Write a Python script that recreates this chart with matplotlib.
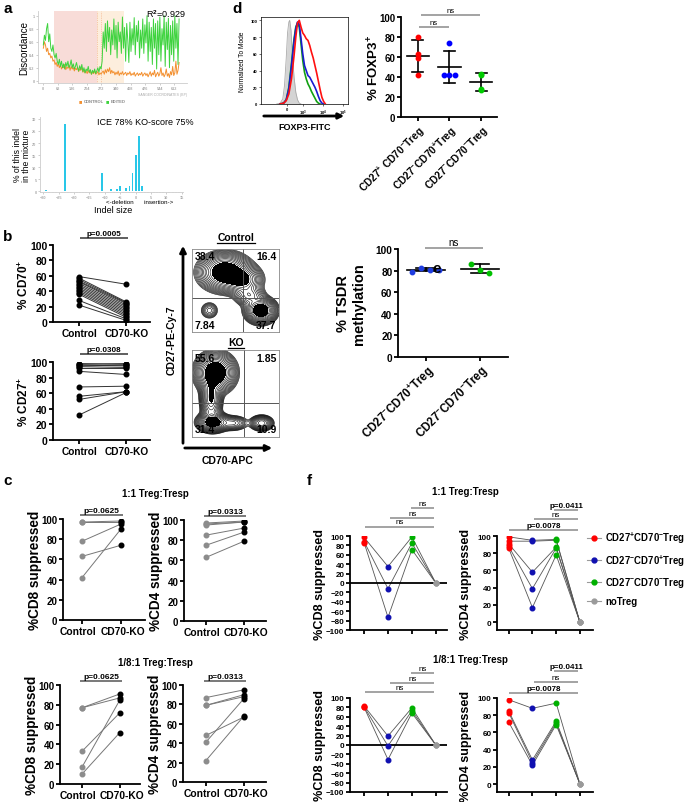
import numpy as np
import matplotlib
matplotlib.use("Agg")
import matplotlib.pyplot as plt
from matplotlib.lines import Line2D
from matplotlib.patches import FancyArrowPatch
from matplotlib.transforms import ScaledTranslation

plt.rcParams['font.family'] = ['Liberation Sans', 'DejaVu Sans']
plt.rcParams['font.weight'] = 'bold'
plt.rcParams['axes.labelweight'] = 'bold'
plt.rcParams['mathtext.fontset'] = 'custom'
plt.rcParams['mathtext.rm'] = 'Liberation Sans:bold'
plt.rcParams['mathtext.it'] = 'Liberation Sans:bold'
plt.rcParams['mathtext.bf'] = 'Liberation Sans:bold'
plt.rcParams['mathtext.default'] = 'rm'

# ---------------- data ----------------
# a: discordance trace, one value every 5 bp
bp = np.arange(0, 640, 5)
edited = [0.55, 0.7, 0.62, 0.8, 0.88, 0.6, 0.72, 0.5, 0.45, 0.55, 0.4, 0.35, 0.42, 0.3, 0.25, 0.33,
          0.22, 0.3, 0.2, 0.26, 0.18, 0.28, 0.22, 0.3, 0.2, 0.24, 0.32, 0.2, 0.26, 0.18, 0.22, 0.28,
          0.2, 0.15, 0.23, 0.17, 0.25, 0.14, 0.2, 0.12, 0.18, 0.15, 0.22, 0.13, 0.17, 0.1, 0.16, 0.12,
          0.18, 0.11, 0.15, 0.2, 0.13, 0.22, 0.18, 0.3, 0.75, 0.5, 0.88, 0.45, 0.92, 0.6, 0.82, 0.4,
          0.78, 0.55, 0.95, 0.48, 0.85, 0.35, 0.9, 0.6, 0.75, 0.42, 0.98, 0.5, 0.82, 0.3, 0.88, 0.62,
          0.28, 0.9, 0.45, 0.8, 0.55, 0.97, 0.4, 0.85, 0.6, 0.92, 0.35, 0.78, 0.5, 0.95, 0.42, 0.86,
          0.58, 1.0, 0.3, 0.9, 0.45, 0.82, 0.25, 0.95, 0.5, 0.88, 0.18, 0.92, 0.4, 0.98, 0.3, 0.8,
          0.55, 1.0, 0.22, 0.9, 0.48, 0.96, 0.2, 0.85, 0.4, 0.92, 0.3, 1.0, 0.5, 0.88, 0.25, 0.95]
control = [0.5, 0.6, 0.55, 0.45, 0.5, 0.4, 0.42, 0.35, 0.38, 0.3, 0.32, 0.25, 0.28, 0.22, 0.26, 0.2,
           0.24, 0.18, 0.22, 0.2, 0.25, 0.17, 0.21, 0.19, 0.24, 0.16, 0.22, 0.18, 0.2, 0.15, 0.19, 0.17,
           0.21, 0.14, 0.18, 0.16, 0.2, 0.13, 0.17, 0.12, 0.15, 0.11, 0.16, 0.12, 0.14, 0.1, 0.13, 0.11,
           0.15, 0.1, 0.12, 0.14, 0.09, 0.12, 0.1, 0.13, 0.15, 0.1, 0.17, 0.12, 0.18, 0.14, 0.2, 0.11,
           0.16, 0.12, 0.14, 0.09, 0.13, 0.1, 0.15, 0.08, 0.12, 0.1, 0.14, 0.09, 0.11, 0.13, 0.08, 0.12,
           0.1, 0.14, 0.08, 0.11, 0.09, 0.13, 0.07, 0.1, 0.12, 0.08, 0.11, 0.09, 0.13, 0.07, 0.1, 0.12,
           0.08, 0.11, 0.06, 0.1, 0.14, 0.07, 0.12, 0.09, 0.16, 0.06, 0.1, 0.13, 0.07, 0.11, 0.2, 0.08,
           0.12, 0.06, 0.1, 0.18, 0.07, 0.11, 0.05, 0.14, 0.09, 0.22, 0.08, 0.12, 0.3, 0.1, 0.16, 0.28]

# a: ICE indel spectrum
indel_size = [-29, -24, -23, -21, -11, -8, -6, -5, -3, -2, -1, 0, 1, 2]
indel_pct = [0.5, 0.3, 28, 0.3, 7.6, 1.0, 0.8, 2.0, 1.5, 2.0, 7.6, 15.2, 23.0, 2.3]

# b: paired CD70 / CD27 frequencies
cd70_ctrl = [59, 57, 55, 53, 52, 50, 48, 46, 44, 42, 40, 38, 36, 28, 22]
cd70_ko = [49, 26, 25, 24, 22, 20, 18, 16, 14, 12, 10, 8, 6, 4, 2]
cd27_ctrl = [98, 97, 96, 95, 94, 92, 88, 68, 56, 52, 32]
cd27_ko = [97, 98, 95, 96, 93, 92, 84, 69, 62, 62, 61]

# b: flow populations (centre x, centre y, sd x, sd y, weight)
ctrl_pop = dict(cx=[0.38, 0.58, 0.79, 0.66, 0.2], cy=[0.72, 0.63, 0.26, 0.44, 0.26],
                sx=[0.13, 0.1, 0.08, 0.08, 0.05], sy=[0.1, 0.08, 0.07, 0.06, 0.05],
                w=[1.0, 0.6, 0.9, 0.3, 0.12])
ko_pop = dict(cx=[0.27, 0.22, 0.24, 0.8, 0.47], cy=[0.74, 0.45, 0.17, 0.16, 0.16],
              sx=[0.1, 0.055, 0.08, 0.06, 0.08], sy=[0.1, 0.13, 0.05, 0.04, 0.04],
              w=[1.0, 0.55, 0.8, 0.4, 0.22])
ctrl_quads = ['38.4', '16.4', '7.84', '37.7']
ko_quads = ['55.6', '1.85', '31.4', '10.9']

# c: suppression, control vs CD70-KO
c_cd8_11 = ([97, 97, 78, 63, 42], [98, 97, 95, 74, 90])
c_cd4_11 = ([97, 96, 95, 85, 75, 63], [99, 98, 98, 92, 88, 79])
c_cd8_81 = ([77, 77, 33, 17, 10], [91, 87, 72, 85, 52])
c_cd4_81 = ([87, 79, 79, 48, 41, 22], [95, 90, 88, 67, 86, 68])

# d: FOXP3 histograms (display units along axis)
grey_u = [18, 22, 25, 27, 29, 30.5, 32, 33, 34.5, 36, 38, 40, 42, 44, 46]
grey_h = [0, 1, 6, 22, 55, 85, 98, 100, 88, 60, 32, 14, 5, 1, 0]
red_u = [22, 26, 29, 32, 35, 38, 40, 42, 44, 46, 48, 50, 52, 54, 56, 58, 60, 62, 64, 66, 68, 70, 72, 74]
red_h = [0, 1, 4, 12, 30, 58, 80, 97, 100, 92, 85, 82, 78, 76, 70, 62, 55, 46, 37, 27, 17, 8, 3, 0]
blue_u = [22, 26, 29, 32, 35, 38, 40, 42, 44, 46, 48, 50, 52, 54, 56, 58, 60, 62, 64, 66, 68, 70, 72]
blue_h = [0, 1, 5, 18, 45, 75, 90, 98, 95, 78, 60, 46, 40, 34, 32, 28, 24, 20, 15, 9, 4, 1, 0]
green_u = [22, 26, 29, 32, 35, 38, 40, 42, 44, 46, 48, 50, 52, 54, 56, 58, 60, 62, 64, 66, 68]
green_h = [0, 1, 5, 20, 48, 78, 92, 97, 92, 72, 52, 38, 30, 24, 20, 15, 11, 7, 3, 1, 0]

# d: % FOXP3+
treg_labels = ['CD27$^{+}$ CD70$^{-}$Treg', 'CD27$^{-}$CD70$^{+}$Treg', 'CD27$^{-}$CD70$^{-}$Treg']
foxp3 = [[80, 63, 59, 42], [74, 42, 42, 42], [43, 42, 28, 27]]
# e: TSDR methylation
tsdr_labels = ['CD27$^{-}$CD70$^{+}$Treg', 'CD27$^{-}$CD70$^{-}$Treg']
tsdr = [[79, 82, 81, 81], [86, 81, 78]]

# f: suppression per donor (red, blue, green, noTreg)
f_cd8_11 = [[97, 35, 98, 0], [88, -12, 85, 0], [86, -73, 71, 0]]
f_cd4_11 = [[99, 95, 96, 0], [94, 94, 95, 0], [91, 58, 87, 0], [88, 39, 86, 0], [86, 17, 78, 0]]
f_cd8_81 = [[83, 19, 79, 0], [81, -2, 73, 0], [80, -31, 68, 0]]
f_cd4_81 = [[98, 88, 94, 0], [85, 28, 73, 0], [83, 25, 71, 0], [72, 22, 69, 0]]
f_labels = ['CD27$^{+}$CD70$^{-}$Treg', 'CD27$^{-}$CD70$^{+}$Treg', 'CD27$^{-}$CD70$^{-}$Treg', 'noTreg']
f_colors = ['#ff0000', '#1010b0', '#00b000', '#9a9a9a']

# ---------------- figure ----------------
W, H = 685, 803
fig = plt.figure(figsize=(W / 100, H / 100), dpi=100)


def axes_at(l, t, r, b):
    ax = fig.add_axes([l / W, 1 - b / H, (r - l) / W, (b - t) / H])
    ax.px = (l, t, r, b)
    return ax


def ftext(x, y, s, **kw):
    return fig.text(x / W, 1 - y / H, s, **kw)


def ylab(ax, s, xright, fs, **kw):
    l, t, r, b = ax.px
    ax.set_ylabel(s, fontsize=fs, **kw)
    ax.yaxis.set_label_coords((xright - l) / (r - l), 0.5)


def prism(ax, ylim, yticks, fs):
    for s in ('top', 'right'):
        ax.spines[s].set_visible(False)
    for s in ('left', 'bottom'):
        ax.spines[s].set_linewidth(1.3)
    ax.set_ylim(*ylim)
    ax.set_yticks(yticks)
    ax.tick_params(width=1.3, length=3, labelsize=fs, pad=1)
    ax.patch.set_alpha(0)


def sig(ax, x0, x1, y, s, fs=5.5, color='#8a8a8a', weight='normal'):
    ax.plot([x0, x1], [y, y], color=color, lw=1.1, clip_on=False, solid_capstyle='butt')
    ax.annotate(s, xy=((x0 + x1) / 2, y), xytext=(0, 0.8), textcoords='offset points',
                ha='center', va='bottom', fontsize=fs, fontweight=weight, annotation_clip=False)


def arrow(x0, y0, x1, y1, ms=9):
    fig.add_artist(FancyArrowPatch((x0 / W, 1 - y0 / H), (x1 / W, 1 - y1 / H),
                                   transform=fig.transFigure, arrowstyle='-|>',
                                   mutation_scale=ms, lw=2, color='k'))


# panel letters
for s, x, y in [('a', 3, 2), ('d', 232, 2), ('b', 3, 230), ('e', 432, 262), ('c', 3, 474), ('f', 307, 474)]:
    ftext(x, y, s, fontsize=11, va='top')

# ---- a: discordance ----
ax = axes_at(38, 12, 187, 84)
ax.axvspan(50, 250, color='#f8dcd8', lw=0)
ax.axvspan(250, 375, color='#fdeedd', lw=0)
ax.axvline(250, color='#f0a070', lw=0.5, ls=':')
ax.axvline(272, color='#f0a070', lw=0.5, ls=':')
ax.plot(bp, control, color='#f39030', lw=0.7)
ax.plot(bp, edited, color='#3ed33e', lw=0.7)
ax.set_xlim(-25, 672)
ax.set_ylim(-0.035, 1.072)
ax.set_xticks(np.arange(0, 613, 68))
ax.set_yticks(np.arange(0, 1.01, 0.2))
ax.set_yticklabels(['0', '0.2', '0.4', '0.6', '0.8', '1'])
ax.tick_params(labelsize=2.8, colors='#aaaaaa', length=1.5, width=0.4, pad=1)
for s in ('top', 'right'):
    ax.spines[s].set_visible(False)
for s in ('left', 'bottom'):
    ax.spines[s].set_color('#cccccc')
    ax.spines[s].set_linewidth(0.6)
ylab(ax, 'Discordance', 29, 7, fontweight='normal')
ftext(186, 14, 'R$^2$=0.929', fontsize=6.5, fontweight='normal', ha='right', va='center')
ftext(187, 96, 'SANGER COORDINATES (BP)', fontsize=2.5, color='#aaaaaa', ha='right', fontweight='normal')
ftext(79, 102, '■', fontsize=4, color='#f39030', va='center')
ftext(84, 102, 'CONTROL', fontsize=3, color='#888888', va='center')
ftext(106, 102, '■', fontsize=4, color='#3ed33e', va='center')
ftext(111, 102, 'EDITED', fontsize=3, color='#888888', va='center')

# ---- a: ICE ----
ax = axes_at(40, 118, 183, 193)
ax.bar(indel_size, indel_pct, width=0.6, color='#29c7e8')
ax.set_xlim(-31.07, 15.4)
ax.set_ylim(-0.3, 30.8)
ax.set_xticks(np.arange(-30, 16, 5))
ax.set_xticks(np.arange(-30, 16, 1), minor=True)
ax.set_yticks(np.arange(0, 31, 5))
ax.tick_params(labelsize=2.8, colors='#aaaaaa', length=1.5, width=0.4, pad=1)
ax.tick_params(which='minor', length=1, width=0.3, colors='#aaaaaa')
for s in ('top', 'right'):
    ax.spines[s].set_visible(False)
for s in ('left', 'bottom'):
    ax.spines[s].set_color('#cccccc')
    ax.spines[s].set_linewidth(0.6)
ylab(ax, '% of this indel\nin the mixture', 31, 6.2, fontweight='normal', linespacing=1.0)
ftext(145, 123, 'ICE 78% KO-score 75%', fontsize=6.5, fontweight='normal', ha='center', va='center')
ftext(140, 203, '<-deletion      insertion->', fontsize=4.5, fontweight='normal', ha='center', va='center')
ftext(113, 211, 'Indel size', fontsize=6.5, fontweight='normal', ha='center', va='center')


# ---- b: paired plots ----
def paired(ax, ctrl, ko, cc, kc, lc):
    for a, b in zip(ctrl, ko):
        ax.plot([0, 1], [a, b], color=lc, lw=0.7, zorder=1)
    ax.plot(np.zeros(len(ctrl)), ctrl, 'o', color=cc, ms=3.3, zorder=2)
    ax.plot(np.ones(len(ko)), ko, 'o', color=kc, ms=3.3, zorder=2)


ax = axes_at(53, 246, 150, 323)
paired(ax, cd70_ctrl, cd70_ko, 'k', 'k', '#333333')
prism(ax, (0, 100), range(0, 101, 20), 7.5)
ax.set_xlim(-0.55, 1.5)
ax.set_xticks([0, 1])
ax.set_xticklabels(['Control', 'CD70-KO'], fontsize=7.3)
sig(ax, 0.02, 1.04, 109, 'p=0.0005', fs=5.8, color='#333333', weight='bold')
ylab(ax, '% CD70$^{+}$', 31, 8.5)

ax = axes_at(53, 363, 150, 441)
paired(ax, cd27_ctrl, cd27_ko, 'k', 'k', '#333333')
prism(ax, (0, 100), range(0, 101, 20), 7.5)
ax.set_xlim(-0.55, 1.5)
ax.set_xticks([0, 1])
ax.set_xticklabels(['Control', 'CD70-KO'], fontsize=7.3)
sig(ax, 0.02, 1.04, 110, 'p=0.0308', fs=5.8, color='#333333', weight='bold')
ylab(ax, '% CD27$^{+}$', 31, 8.5)


# ---- b: flow contour plots ----
def flow(ax, pop, qx, qy, quads):
    g = np.linspace(0, 1, 220)
    X, Y = np.meshgrid(g, g)
    Z = np.zeros_like(X)
    for cx, cy, sx, sy, w in zip(pop['cx'], pop['cy'], pop['sx'], pop['sy'], pop['w']):
        Z += w * np.exp(-((X - cx) ** 2 / (2 * sx ** 2) + (Y - cy) ** 2 / (2 * sy ** 2)))
    zmax = Z.max()
    ax.contourf(X, Y, Z, levels=[zmax * 0.5, zmax * 1.01], colors='k')
    ax.contour(X, Y, Z, levels=np.geomspace(zmax * 0.02, zmax * 0.5, 15), colors='k', linewidths=0.4)
    ax.axvline(qx, color='#555555', lw=0.7)
    ax.axhline(qy, color='#555555', lw=0.7)
    ax.set_xlim(0, 1)
    ax.set_ylim(0, 1)
    ax.set_xticks([])
    ax.set_yticks([])
    for s in ax.spines.values():
        s.set_linewidth(0.6)
        s.set_color('#888888')
    kw = dict(fontsize=7.5, transform=ax.transAxes)
    ax.text(0.03, 0.97, quads[0], ha='left', va='top', **kw)
    ax.text(0.97, 0.97, quads[1], ha='right', va='top', **kw)
    ax.text(0.03, 0.03, quads[2], ha='left', va='bottom', **kw)
    ax.text(0.97, 0.03, quads[3], ha='right', va='bottom', **kw)


ax = axes_at(192, 250, 279, 333)
flow(ax, ctrl_pop, 0.59, 0.41, ctrl_quads)
ax = axes_at(192, 351, 279, 438)
flow(ax, ko_pop, 0.6, 0.39, ko_quads)
ftext(236, 238, 'Control', fontsize=7.5, ha='center', va='center')
fig.add_artist(Line2D([217 / W, 255 / W], [1 - 244 / H, 1 - 244 / H], color='k', lw=0.9))
ftext(236, 343, 'KO', fontsize=7.5, ha='center', va='center')
fig.add_artist(Line2D([228 / W, 244 / W], [1 - 349 / H, 1 - 349 / H], color='k', lw=0.9))
arrow(183, 447, 183, 244)
arrow(182, 449, 275, 449)
ftext(172, 340, 'CD27-PE-Cy-7', fontsize=7.5, rotation=90, ha='center', va='center')
ftext(228, 461, 'CD70-APC', fontsize=7.5, ha='center', va='center')


# ---- c ----
def c_panel(ax, pair, p, ylabel, xlim):
    paired(ax, pair[0], pair[1], '#8c8c8c', 'k', '#777777')
    prism(ax, (0, 100), range(0, 101, 20), 7)
    ax.set_xlim(*xlim)
    ax.set_xticks([0, 1])
    labs = ax.set_xticklabels(['Control', 'CD70-KO'], fontsize=7.4)
    for lab, dx in zip(labs, (-4, 2)):
        lab.set_transform(lab.get_transform() + ScaledTranslation(dx / 100, 0, fig.dpi_scale_trans))
    sig(ax, -0.05, 1.05, 104, p, fs=6, color='#555555', weight='bold')
    ylab(ax, ylabel, ax.px[0] - 21, 9.8)


c_panel(axes_at(63, 520, 145, 621), c_cd8_11, 'p=0.0625', '%CD8 suppressed', (-0.49, 1.62))
c_panel(axes_at(184, 521, 266, 622), c_cd4_11, 'p=0.0313', '%CD4 suppressed', (-0.58, 1.58))
c_panel(axes_at(60, 686, 140, 785), c_cd8_81, 'p=0.0625', '%CD8 suppressed', (-0.58, 1.53))
c_panel(axes_at(183, 686, 266, 783), c_cd4_81, 'p=0.0313', '%CD4 suppressed', (-0.6, 1.58))
ftext(155, 494, '1:1 Treg:Tresp', fontsize=7, ha='center', va='center')
ftext(155, 663, '1/8:1 Treg:Tresp', fontsize=7, ha='center', va='center')

# ---- d: histogram ----
ax = axes_at(261, 18, 348, 105)
ax.fill_between(grey_u, grey_h, color='#d4d4d4', lw=0)
ax.plot(grey_u, grey_h, color='#aaaaaa', lw=0.6)
ax.plot(green_u, green_h, color='#12a012', lw=1.2)
ax.plot(blue_u, blue_h, color='#1b1bd0', lw=1.2)
ax.plot(red_u, red_h, color='#ff1010', lw=1.2)
ax.set_xlim(0, 100)
ax.set_ylim(0, 104)
ax.set_yticks(range(0, 101, 20))
ax.set_xticks([29.5, 48.6, 71.6, 94.6])
ax.set_xticklabels(['0', '10$^3$', '10$^4$', '10$^5$'])
ax.tick_params(labelsize=3, length=1.5, width=0.4, pad=1)
for s in ax.spines.values():
    s.set_linewidth(0.5)
ylab(ax, 'Normalized To Mode', 246, 4.8, fontweight='normal')
arrow(261, 117, 347, 117, ms=8)
ftext(305, 127, 'FOXP3-FITC', fontsize=6.5, ha='center', va='center')


# ---- d / e: dot plots ----
def spread_dupes(vals, step):
    offs = np.zeros(len(vals))
    for v in set(vals):
        idx = [i for i, x in enumerate(vals) if x == v]
        n = len(idx)
        for k, i in enumerate(idx):
            offs[i] = (k - (n - 1) / 2) * step
    return offs


def mean_sd(ax, x, vals, color, offs):
    m, sd = np.mean(vals), np.std(vals, ddof=1)
    ax.plot(x + offs, vals, 'o', color=color, ms=3.2, zorder=3)
    ax.plot([x - 0.35, x + 0.35], [m, m], color='k', lw=1.2, zorder=2)
    ax.plot([x, x], [m - sd, m + sd], color='k', lw=1.2, zorder=2)
    for y in (m - sd, m + sd):
        ax.plot([x - 0.17, x + 0.17], [y, y], color='k', lw=1.2, zorder=2)


ax = axes_at(401, 18, 497, 118)
for i, (vals, col) in enumerate(zip(foxp3, ['#ff0000', '#0000ff', '#00cc00'])):
    mean_sd(ax, i, vals, col, spread_dupes(vals, 0.18))
prism(ax, (0, 100), range(0, 101, 20), 7)
ax.set_xlim(-0.53, 2.5)
ax.set_xticks([0, 1, 2])
ax.set_xticklabels(treg_labels, rotation=45, ha='right', rotation_mode='anchor', fontsize=7.3)
sig(ax, 0.03, 0.97, 90, 'ns')
sig(ax, 0.1, 1.97, 102, 'ns')
ylab(ax, '% FOXP3$^{+}$', 382, 9.5)

ax = axes_at(398, 250, 508, 358)
for i, (vals, col) in enumerate(zip(tsdr, ['#1f3de0', '#00c000'])):
    n = len(vals)
    mean_sd(ax, i, vals, col, np.linspace(-0.085 * (n - 1), 0.085 * (n - 1), n))
prism(ax, (0, 100), range(0, 101, 20), 7.3)
ax.set_xlim(-0.51, 1.52)
ax.set_xticks([0, 1])
ax.set_xticklabels(tsdr_labels, rotation=45, ha='right', rotation_mode='anchor', fontsize=8.3)
sig(ax, -0.02, 1.05, 101, 'ns', fs=7)
ylab(ax, '% TSDR\nmethylation', 366, 10.5)


# ---- f ----
def f_panel(ax, donors, ylim, yticks, sigs, xlim):
    for d in donors:
        ax.plot(range(4), d, color='#555555', lw=0.6, zorder=1)
    for g in range(4):
        ax.plot([g] * len(donors), [d[g] for d in donors], 'o', color=f_colors[g], ms=3.3, zorder=3)
    prism(ax, ylim, yticks, 5.8)
    ax.set_xlim(*xlim)
    ax.set_xticks(range(4))
    ax.set_xticklabels([])
    for x0, y, s in sigs:
        sig(ax, x0, 2.93, y, s, fs=5.8, color='#8a8a8a', weight='bold' if s != 'ns' else 'normal')


ax = axes_at(350, 537, 447, 631)
ax.axhline(0, color='k', lw=1.3, zorder=2)
f_panel(ax, f_cd8_11, (-100, 100), range(-100, 101, 20),
        [(0.05, 120, 'ns'), (1.1, 138, 'ns'), (1.95, 160, 'ns')], (-0.59, 3.47))
ylab(ax, '%CD8 suppressed', 326, 9.1)

ax = axes_at(497, 537, 593, 631)
f_panel(ax, f_cd4_11, (-9, 100), range(0, 101, 20),
        [(0, 107, 'p=0.0078'), (1.05, 120, 'ns'), (1.9, 130, 'p=0.0411')], (-0.49, 3.55))
ylab(ax, '%CD4 suppressed', 472, 9.1)

ax = axes_at(350, 699, 447, 793)
ax.axhline(0, color='k', lw=1.3, zorder=2)
f_panel(ax, f_cd8_81, (-100, 100), range(-100, 101, 20),
        [(0.05, 113, 'ns'), (1.1, 131, 'ns'), (1.95, 153, 'ns')], (-0.59, 3.47))
ylab(ax, '%CD8 suppressed', 326, 9.1)

ax = axes_at(497, 699, 593, 793)
f_panel(ax, f_cd4_81, (-9.3, 100), range(0, 101, 20),
        [(0, 106, 'p=0.0078'), (1.05, 119, 'ns'), (1.9, 131, 'p=0.0411')], (-0.49, 3.55))
ylab(ax, '%CD4 suppressed', 472, 9.1)

ftext(465, 492, '1:1 Treg:Tresp', fontsize=7, ha='center', va='center')
ftext(470, 660, '1/8:1 Treg:Tresp', fontsize=7, ha='center', va='center')

handles = [Line2D([], [], color='#9a9a9a', lw=0.8, marker='o', mfc=c, mec=c, ms=3.5) for c in f_colors]
fig.legend(handles, f_labels, loc='upper left', bbox_to_anchor=(587 / W, 1 - 531 / H), frameon=False,
           fontsize=6.9, handlelength=1.5, labelspacing=0.75, handletextpad=0.4, borderaxespad=0,
           borderpad=0)

fig.savefig('out.png', dpi=100)
